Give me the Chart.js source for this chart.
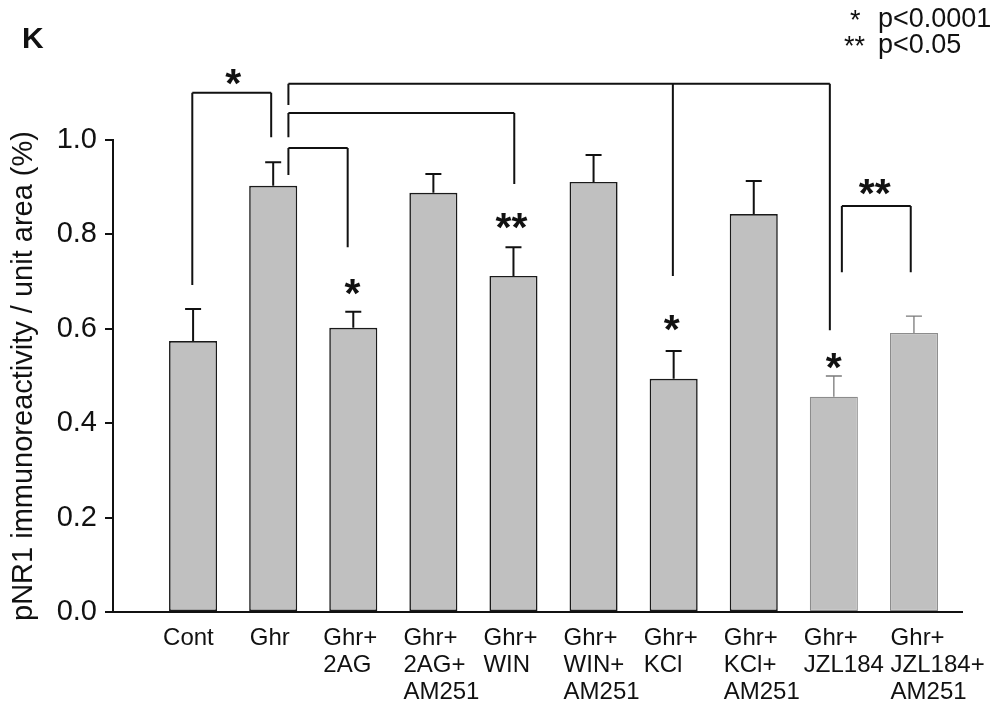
<!DOCTYPE html>
<html><head><meta charset="utf-8">
<script src="https://cdn.jsdelivr.net/npm/chart.js@4.4.1/dist/chart.umd.min.js"></script>
<style>html,body{margin:0;padding:0;background:#fff}#wrap{width:996px;height:705px;position:relative}canvas{display:block}</style>
</head><body><div id="wrap"><canvas id="c" width="996" height="705"></canvas></div>
<script>
// ---- data ----
const categories = [['Cont'],['Ghr'],['Ghr+','2AG'],['Ghr+','2AG+','AM251'],['Ghr+','WIN'],['Ghr+','WIN+','AM251'],['Ghr+','KCl'],['Ghr+','KCl+','AM251'],['Ghr+','JZL184'],['Ghr+','JZL184+','AM251']];
const means = [0.574, 0.903, 0.602, 0.888, 0.712, 0.911, 0.494, 0.843, 0.456, 0.591];
const sems  = [0.068, 0.050, 0.034, 0.040, 0.061, 0.057, 0.059, 0.070, 0.044, 0.036];
const yTicks = [0, 0.2, 0.4, 0.6, 0.8, 1.0];
const yTitle = 'pNR1 immunoreactivity / unit area (%)';
const panelLabel = 'K';
const legendStars = ['*', '**'];
const legendText = ['p<0.0001', 'p<0.05'];
// significance brackets (x in category index units, y in data units)
const bracketXs   = [[-0.01, 0.975], [1.19, 5.99, 7.95], [1.19, 4.01], [1.19, 1.93], [8.1, 8.96]];
const bracketTop  = [1.100, 1.119, 1.057, 0.983, 0.860];
const bracketEnds = [[0.693, 1.006], [1.074, 0.712, 0.597], [1.006, 0.907], [0.926, 0.773], [0.720, 0.720]];
const starText = ['*', '*', '**', '*', '*', '**'];
const starX    = [0.5, 1.99, 3.975, 5.975, 8.0, 8.51];
const starY    = [1.142, 0.697, 0.835, 0.619, 0.540, 0.909];

Chart.defaults.font.family = '"Liberation Sans", Arial, Helvetica, sans-serif';
Chart.defaults.color = '#111';

// labels nudged one space to the right (layout only)
const labelNudge = [false, true, false, false, false, false, false, false, false, true];

const errorBars = {
  id: 'errorBars',
  afterDatasetsDraw(chart) {
    const ctx = chart.ctx, ys = chart.scales.y;
    const meta = chart.getDatasetMeta(0);
    ctx.save();
    meta.data.forEach((el, i) => {
      const top = ys.getPixelForValue(means[i] + sems[i]);
      const gray = i >= 8;
      ctx.strokeStyle = gray ? '#7a7a7a' : '#111';
      ctx.lineWidth = gray ? 1.3 : 2;
      ctx.beginPath();
      ctx.moveTo(el.x, el.y); ctx.lineTo(el.x, top);
      ctx.moveTo(el.x - 8, top); ctx.lineTo(el.x + 8, top);
      ctx.stroke();
    });
    ctx.restore();
  }
};

const annotations = {
  id: 'annotations',
  afterDraw(chart) {
    const ctx = chart.ctx, xs = chart.scales.x, ys = chart.scales.y;
    ctx.save();
    ctx.strokeStyle = '#111'; ctx.lineWidth = 2; ctx.lineCap = 'butt';
    bracketXs.forEach((xsArr, b) => {
      const top = ys.getPixelForValue(bracketTop[b]);
      const px = xsArr.map(v => xs.getPixelForValue(v));
      ctx.beginPath();
      ctx.moveTo(px[0], top); ctx.lineTo(px[px.length - 1], top);
      px.forEach((p, k) => { ctx.moveTo(p, top); ctx.lineTo(p, ys.getPixelForValue(bracketEnds[b][k])); });
      ctx.stroke();
    });
    ctx.fillStyle = '#111';
    ctx.textAlign = 'center'; ctx.textBaseline = 'alphabetic';
    const sz = 41;
    ctx.font = 'bold ' + sz + 'px "Liberation Sans", Arial, sans-serif';
    starText.forEach((t, k) => {
      ctx.fillText(t, xs.getPixelForValue(starX[k]), ys.getPixelForValue(starY[k]) + 0.575 * sz);
    });
    // panel label
    ctx.textAlign = 'left';
    ctx.font = 'bold 30px "Liberation Sans", Arial, sans-serif';
    ctx.fillText(panelLabel, 22, 48);
    // legend
    ctx.font = '27px "Liberation Sans", Arial, sans-serif';
    const legY = [27, 53];
    legendStars.forEach((s, k) => {
      ctx.textAlign = 'left';
      ctx.fillText(s, k === 0 ? 850 : 844, legY[k] + 2);
      ctx.fillText(legendText[k], 878, legY[k]);
    });
    ctx.restore();
  }
};

new Chart(document.getElementById('c'), {
  type: 'bar',
  data: {
    datasets: [{
      data: means.map((v, i) => ({x: i, y: v})),
      backgroundColor: '#c0c0c0',
      borderColor: ctx => ctx.dataIndex >= 8 ? '#8c8c8c' : '#1a1a1a',
      borderWidth: ctx => ctx.dataIndex >= 8 ? 1.2 : 1.6,
      borderSkipped: false,
      categoryPercentage: 1,
      barPercentage: 0.6
    }]
  },
  options: {
    responsive: false,
    animation: false,
    devicePixelRatio: 1,
    layout: { padding: { left: 0, right: 34, top: 140, bottom: 0 } },
    plugins: { legend: { display: false }, tooltip: { enabled: false } },
    scales: {
      x: {
        type: 'linear', min: -1, max: 9.6, offset: false,
        afterBuildTicks: s => { s.ticks = categories.map((c, i) => ({ value: i })); },
        afterFit: s => { s.height = 93; s.paddingLeft = 0; s.paddingRight = 0; },
        ticks: {
          callback: v => categories[v].map(l => (labelNudge[v] ? ' ' : '') + l),
          font: { size: 24, lineHeight: 1.12 },
          align: 'start', labelOffset: -30,
          color: '#111', padding: 5, maxRotation: 0, minRotation: 0, autoSkip: false
        },
        grid: { display: false, offset: false },
        border: { display: true, color: '#111', width: 2 }
      },
      y: {
        min: 0, max: 1,
        afterBuildTicks: s => { s.ticks = yTicks.map(v => ({ value: v })); },
        afterFit: s => { s.width = 113; },
        ticks: { callback: v => v.toFixed(1), font: { size: 29 }, color: '#111', padding: 8 },
        grid: { display: true, drawOnChartArea: false, drawTicks: true, tickLength: 8, color: '#111', lineWidth: 2 },
        border: { display: true, color: '#111', width: 2 },
        title: { display: true, text: yTitle, font: { size: 29 }, color: '#111', padding: { top: 7, bottom: 0 } }
      }
    }
  },
  plugins: [errorBars, annotations]
});
</script>
</body></html>
